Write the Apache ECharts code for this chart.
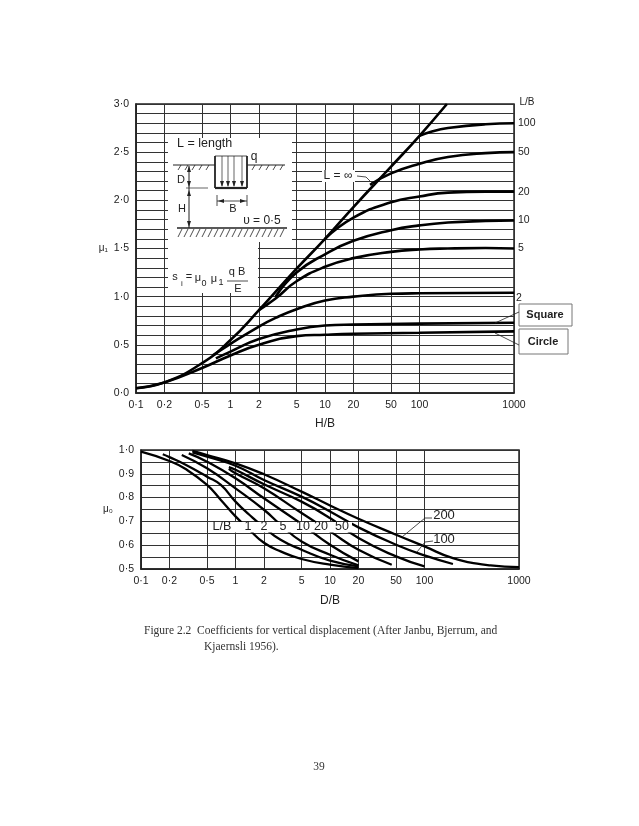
<!DOCTYPE html>
<html><head><meta charset="utf-8">
<style>html,body{margin:0;padding:0;background:#fff}#c{width:639px;height:826px}</style>
<script src="https://cdn.jsdelivr.net/npm/echarts@6/dist/echarts.min.js"></script>
</head><body><div id="c"></div>
<script>
const xTicks=[0.1,0.2,0.5,1,2,5,10,20,50,100,1000];
// upper chart: [H/B, mu1]
const mu1Inf=[[0.1,0.05],[0.2,0.11],[0.5,0.31],[1,0.55],[2,0.86],[5,1.29],[10,1.6],[20,1.93],[50,2.35],[100,2.67],[195,3.0]];
const mu1L100=[[100,2.67],[130,2.71],[200,2.75],[500,2.79],[1000,2.8]];
const mu1L50=[[30,2.16],[50,2.28],[100,2.38],[200,2.45],[500,2.49],[1000,2.5]];
const mu1L20=[[10,1.6],[20,1.82],[50,1.98],[100,2.04],[200,2.08],[500,2.09],[1000,2.09]];
const mu1L10=[[3,1.0],[5,1.25],[10,1.44],[20,1.58],[50,1.69],[100,1.74],[200,1.77],[500,1.785],[1000,1.79]];
const mu1L5=[[2,0.86],[3,0.98],[5,1.16],[10,1.31],[20,1.4],[50,1.465],[100,1.49],[200,1.5],[500,1.505],[1000,1.5]];
const mu1L2=[[0.65,0.39],[1,0.51],[2,0.69],[3,0.78],[5,0.87],[10,0.96],[20,1.0],[50,1.03],[100,1.035],[1000,1.04]];
const mu1Square=[[0.7,0.36],[1,0.43],[2,0.56],[5,0.66],[10,0.7],[20,0.71],[100,0.72],[1000,0.73]];
const mu1Circle=[[0.1,0.05],[0.2,0.11],[0.5,0.26],[1,0.39],[2,0.5],[5,0.59],[10,0.605],[20,0.615],[100,0.625],[1000,0.64]];
// lower chart: [D/B, mu0]
const mu0L1=[[0.1,0.993],[0.2,0.954],[0.3,0.919],[0.5,0.853],[0.7,0.79],[1,0.721],[1.4,0.665],[2,0.61],[3,0.574],[5,0.542],[10,0.518],[20,0.504]];
const mu0L2=[[0.17,0.982],[0.2,0.97],[0.3,0.937],[0.5,0.888],[0.7,0.853],[1,0.783],[1.4,0.728],[2,0.675],[3,0.623],[5,0.581],[10,0.535],[20,0.511]];
const mu0L5=[[0.27,0.979],[0.5,0.923],[1,0.839],[2,0.749],[3,0.686],[5,0.616],[10,0.56],[20,0.515]];
const mu0L10=[[0.32,0.986],[0.5,0.951],[1,0.881],[2,0.797],[5,0.689],[10,0.602],[20,0.532]];
const mu0L20=[[0.85,0.921],[1,0.902],[2,0.839],[5,0.735],[10,0.658],[20,0.581],[45,0.518]];
const mu0L50=[[0.85,0.928],[1,0.917],[2,0.856],[5,0.783],[10,0.714],[20,0.63],[50,0.553],[100,0.511]];
const mu0L100=[[0.35,0.99],[0.5,0.972],[1,0.934],[2,0.874],[5,0.804],[10,0.742],[20,0.675],[50,0.602],[100,0.557],[200,0.521]];
const mu0L200=[[0.35,0.996],[0.5,0.979],[1,0.944],[2,0.898],[5,0.825],[10,0.767],[20,0.711],[50,0.644],[100,0.595],[200,0.546],[500,0.515],[1000,0.508]];

const upperCurves=[['L = ∞',mu1Inf,''],['100',mu1L100,'100'],['50',mu1L50,'50'],['20',mu1L20,'20'],['10',mu1L10,'10'],['5',mu1L5,'5'],['2',mu1L2,'2'],['Square',mu1Square,''],['Circle',mu1Circle,'']];
const lowerCurves=[['1',mu0L1],['2',mu0L2],['5',mu0L5],['10',mu0L10],['20',mu0L20],['50',mu0L50],['100',mu0L100],['200',mu0L200]];

const INK='#222', FONT='"Liberation Sans",Arial,sans-serif';
const dot=v=>String(v).replace('.','·');
const ch=echarts.init(document.getElementById('c'),null,{renderer:'canvas'});

function xAxis(gi,name,gap){return {type:'log',gridIndex:gi,min:0.1,max:1000,logBase:10,
  name:name,nameLocation:'middle',nameGap:gap,nameTextStyle:{color:INK,fontSize:12,fontFamily:FONT},
  axisLine:{lineStyle:{color:INK,width:1.5}},
  axisTick:{show:false,customValues:xTicks},minorTick:{show:false},
  axisLabel:{customValues:xTicks,color:INK,fontSize:10.5,margin:7,fontFamily:FONT,hideOverlap:false,showMinLabel:true,showMaxLabel:true,formatter:v=>dot(+(+v).toPrecision(3))},
  splitLine:{show:true,lineStyle:{color:'#333',width:1}},minorSplitLine:{show:false}};}
function yAxis(gi,min,max,step,name,every){return {type:'value',gridIndex:gi,min,max,interval:step,
  name:name,nameLocation:'middle',nameGap:24,nameRotate:0,nameTextStyle:{color:INK,fontSize:10,fontFamily:FONT},
  axisLine:{show:true,lineStyle:{color:INK,width:1.5}},axisTick:{show:false},
  axisLabel:{color:INK,fontSize:10.5,margin:7,fontFamily:FONT,formatter:v=>{const n=Math.round(v/step);return n%every===0?dot((n*step).toFixed(1)):'';}},
  splitLine:{show:true,lineStyle:{color:'#333',width:1}}};}

const G=[];
const line=(x1,y1,x2,y2,w)=>G.push({type:'line',z:50,shape:{x1,y1,x2,y2},style:{stroke:INK,lineWidth:w||1}});
const text=(x,y,t,s,o)=>G.push({type:'text',z:51,x,y,style:Object.assign({text:t,fill:INK,font:(s||11)+'px '+FONT,textAlign:'center',textVerticalAlign:'middle'},o||{})});
const mask=(x,y,width,height,z)=>G.push({type:'rect',z:z||49,shape:{x,y,width,height},style:{fill:'#fff'}});
const box=(x,y,width,height)=>G.push({type:'rect',z:50,shape:{x,y,width,height},style:{fill:'#fff',stroke:'#777',lineWidth:1}});
const head=(x,y,dx,dy)=>G.push({type:'polygon',z:51,shape:{points:[[x,y],[x-dy*2-dx*6,y-dx*2-dy*6],[x+dy*2-dx*6,y+dx*2-dy*6]]},style:{fill:INK}});

// inset panel of the upper chart
mask(168,138,124,104); mask(168,242,90,51);
text(177,144,'L = length',12.5,{textAlign:'left'});
line(173,165,215,165,1.2); line(247,165,285,165,1.2);
for(let x=178;x<213;x+=7) line(x+3,165,x,170,.8);
for(let x=252;x<284;x+=7) line(x+3,165,x,170,.8);
line(215,156,215,188,1.8); line(247,156,247,188,1.8); line(215,188,247,188,2.2); line(215,156,247,156,.8);
for(const x of [222,228,234,242]){ line(x,156,x,186,.7); head(x,187,0,1); }
text(254,157,'q',12);
line(217,201,247,201,.8); line(217,195,217,206,.8); line(247,195,247,206,.8); head(218,201,-1,0); head(246,201,1,0);
text(233,209,'B',11);
line(189,166,189,228,1); head(189,166,0,-1); head(189,187,0,1); head(189,190,0,-1); head(189,227,0,1);
line(186,188,208,188,.7);
text(181,180,'D',11); text(182,209,'H',11);
line(177,228,287,228,1.3);
for(let x=178;x<286;x+=6) line(x+4,229,x,237,.8);
text(262,221,'υ = 0·5',12);
text(175,277,'s',11); text(182,284,'i',8); text(189,277,'=',11);
text(198,278,'μ',11); text(204,284,'0',9); text(214,279,'μ',11); text(221,283,'1',9);
text(237,272,'q B',11); line(227,281,248,281,.8); text(238,289,'E',11);

// upper chart annotations
text(527,102,'L/B',10);
mask(322,170,33,12); text(338,176,'L = ∞',12); line(357,176,366,177,.8); line(366,177,374,185,.8);
box(519,304,53,22); text(545,315,'Square',11,{font:'bold 11px '+FONT});
box(519,329,49,25); text(543,342,'Circle',11,{font:'bold 11px '+FONT});
line(519,312,495,323,.8); line(519,345,495,333,.8);

// lower chart annotations
mask(212,522,140,10.5,60);
const bandLabels=[['L/B',222],['1',248],['2',264],['5',283],['10',303],['20',321],['50',342]];
for(const [t,x] of bandLabels) G.push({type:'text',z:61,x,y:527,style:{text:t,fill:INK,font:'12.5px '+FONT,textAlign:'center',textVerticalAlign:'middle'}});
text(444,515,'200',13); text(444,539,'100',13);
line(425,518,432,518,.8); line(425,518,402,537,.8);
line(433,541,425,542,.8); line(425,542,417,552,.8);

// caption and page number
const serif='11.5px "Liberation Serif","Times New Roman",serif';
text(144,631,'Figure 2.2  Coefficients for vertical displacement (After Janbu, Bjerrum, and',12,{font:serif,textAlign:'left',fill:'#333'});
text(204,647,'Kjaernsli 1956).',12,{font:serif,textAlign:'left',fill:'#333'});
text(319,767,'39',12,{font:serif,fill:'#333'});

const series=[];
upperCurves.forEach(([name,data,end])=>series.push({type:'line',name,xAxisIndex:0,yAxisIndex:0,data,showSymbol:false,smooth:0.5,silent:true,z:5,clip:true,
  lineStyle:{color:'#000',width:2.6},
  endLabel:{show:!!end,formatter:end,color:INK,fontSize:10.5,fontFamily:FONT,distance:4,offset:end==='2'?[-2,5]:[0,0]}}));
lowerCurves.forEach(([name,data])=>series.push({type:'line',name:'L/B '+name,xAxisIndex:1,yAxisIndex:1,data,showSymbol:false,smooth:0.5,silent:true,z:5,
  lineStyle:{color:'#000',width:2.3}}));

ch.setOption({animation:false,backgroundColor:'#fff',
  grid:[{left:136,top:104,width:378,height:289,show:true,borderColor:INK,borderWidth:1.5,containLabel:false},
        {left:141,top:450,width:378,height:119,show:true,borderColor:INK,borderWidth:1.5,containLabel:false}],
  xAxis:[xAxis(0,'H/B',25),xAxis(1,'D/B',26)],
  yAxis:[yAxis(0,0,3,0.1,'μ₁',5),yAxis(1,0.5,1,0.05,'μ₀',2)],
  series,graphic:{elements:G}});
</script></body></html>
